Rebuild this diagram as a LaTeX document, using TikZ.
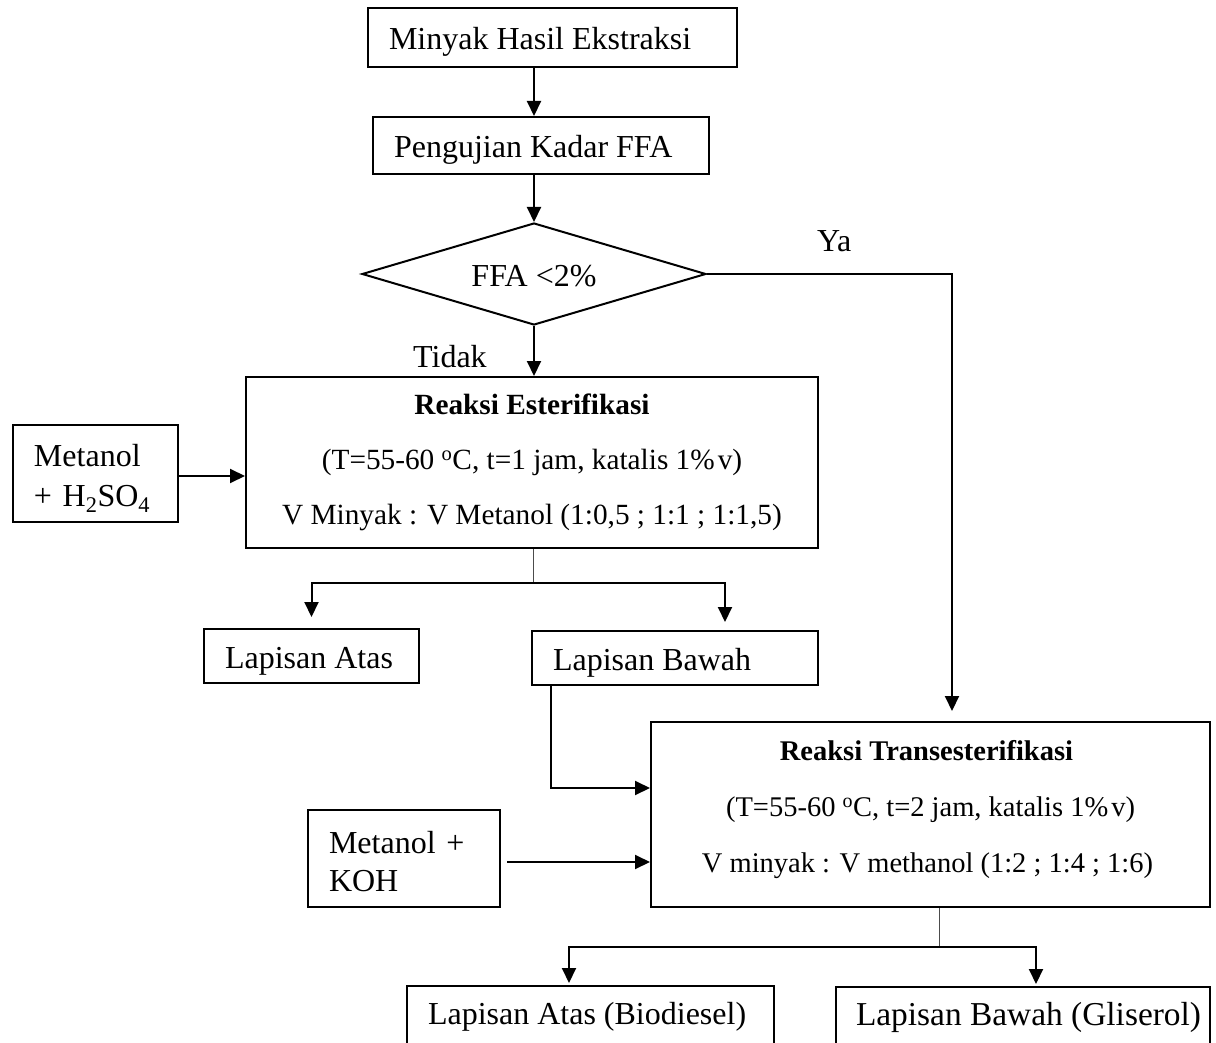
\documentclass[tikz,border=0pt]{standalone}
\usepackage{fontspec}
\setmainfont{Liberation Serif}
\usetikzlibrary{arrows.meta,shapes.geometric}
\newcommand\lbx[2]{\makebox[#1pt][l]{#2}}
\begin{document}
\begin{tikzpicture}[x=1pt,y=-1pt,
  every node/.style={font=\fontsize{32}{40}\selectfont},
  sbox/.style={draw, line width=2pt, rectangle, anchor=north west, inner xsep=21pt, inner ysep=0pt,
     text height=26pt, text depth=2pt},
  mbox/.style={draw, line width=2pt, rectangle, anchor=north west, inner xsep=21pt, inner ysep=0pt, align=left},
  rbox/.style={draw, line width=2pt, rectangle, anchor=north west, inner sep=0pt, align=center},
  arr/.style={-{Triangle[width=14pt,length=15pt]}, line width=2pt},
  stem/.style={line width=1pt, black!70},
  lbl/.style={anchor=base west, inner sep=0pt}]
\useasboundingbox (0,0) rectangle (1216,1043);
\clip (0,0) rectangle (1216,1043);

% boxes
\node[sbox, minimum height=59pt] (box1) at (367,7) {\lbx{327}{Minyak Hasil Ekstraksi}};
\node[sbox, minimum height=57pt] (box2) at (372,116) {\lbx{294}{Pengujian Kadar FFA}};
\node[draw, line width=2pt, shape=diamond, shape aspect=3.37, minimum width=344pt, minimum height=102pt, inner sep=0pt,
      text height=27pt, text depth=1pt] (dia) at (534,274) {FFA <2\%};
\node[rbox, minimum width=572pt, minimum height=171pt, font=\fontsize{29.3}{55}\selectfont] (est) at (245,376)
  {\textbf{Reaksi Esterifikasi}\\(T=55-60 \textsuperscript{o}C, t=1 jam, katalis 1\%\kern3pt v)\\V Minyak : V Metanol (1:0,5 ; 1:1 ; 1:1,5)};
\node[mbox, text width=123pt, minimum height=97pt, font=\fontsize{32}{40}\selectfont] (met1) at (12,424)
  {\rule{0pt}{32pt}Metanol\\+ H\textsubscript{2}SO\textsubscript{4}};
\node[sbox, minimum height=54pt] (lapA) at (203,628) {\lbx{173}{Lapisan Atas}};
\node[sbox, minimum height=54pt] (lapB) at (531,630) {\lbx{244}{Lapisan Bawah}};
\node[rbox, minimum width=559pt, minimum height=185pt, font=\fontsize{28.5}{56}\selectfont] (trans) at (650,721)
  {\textbf{Reaksi Transesterifikasi}\hspace*{8pt}\\(T=55-60 \textsuperscript{o}C, t=2 jam, katalis 1\%\kern3pt v)\hspace*{8pt}\\V minyak : V methanol (1:2 ; 1:4 ; 1:6)\rule[-16pt]{0pt}{16pt}\hspace*{6pt}};
\node[mbox, text width=150pt, minimum height=97pt, font=\fontsize{32}{38}\selectfont] (met2) at (307,809)
  {\rule{0pt}{28pt}Metanol +\\KOH};
\node[sbox, minimum height=62pt, text height=18pt, text depth=4pt] (bio) at (406,985) {\lbx{325}{Lapisan Atas (Biodiesel)}};
\node[sbox, minimum height=62pt, text height=18pt, text depth=4pt, inner xsep=20pt, font=\fontsize{33.4}{40}\selectfont] (gli) at (835,986) {\lbx{334}{Lapisan Bawah (Gliserol)}};

% labels
\node[lbl] (ya) at (817,252) {Ya};
\node[lbl] (tidak) at (413,367) {Tidak};

% helper coordinates
\coordinate (cMet) at (0,476);
\coordinate (ycol) at (952,0);
\coordinate (s1) at (533,583);
\coordinate (bcol) at (725,0);
\coordinate (lbcol) at (551,788);
\coordinate (cK) at (0,862);
\coordinate (s2) at (939,947);
\coordinate (bioc) at (569,0);
\coordinate (glic) at (1036,0);

% connectors
\draw[arr] (box1.south -| dia.north) -- (box2.north -| dia.north);
\draw[arr] (box2.south -| dia.north) -- (dia.north);
\draw[arr] (dia.south) -- (dia.south |- est.north);
\draw[arr, shorten >=10pt] (dia.east) -| (ycol |- trans.north);
\draw[arr] (met1.east |- cMet) -- (est.west |- cMet);
\draw[stem] (est.south -| s1) -- (s1);
\draw[arr, shorten >=11pt] (s1) -| (lapA.north);
\draw[arr, shorten >=8pt] (s1) -| (bcol |- lapB.north);
\draw[arr] (lapB.south -| lbcol) |- (trans.west |- lbcol);
\draw[arr, shorten <=6pt] (met2.east |- cK) -- (trans.west |- cK);
\draw[stem] (trans.south -| s2) -- (s2);
\draw[arr, shorten >=2pt] (s2) -| (bioc |- bio.north);
\draw[arr, shorten >=2pt] (s2) -| (glic |- gli.north);
\end{tikzpicture}
\end{document}
